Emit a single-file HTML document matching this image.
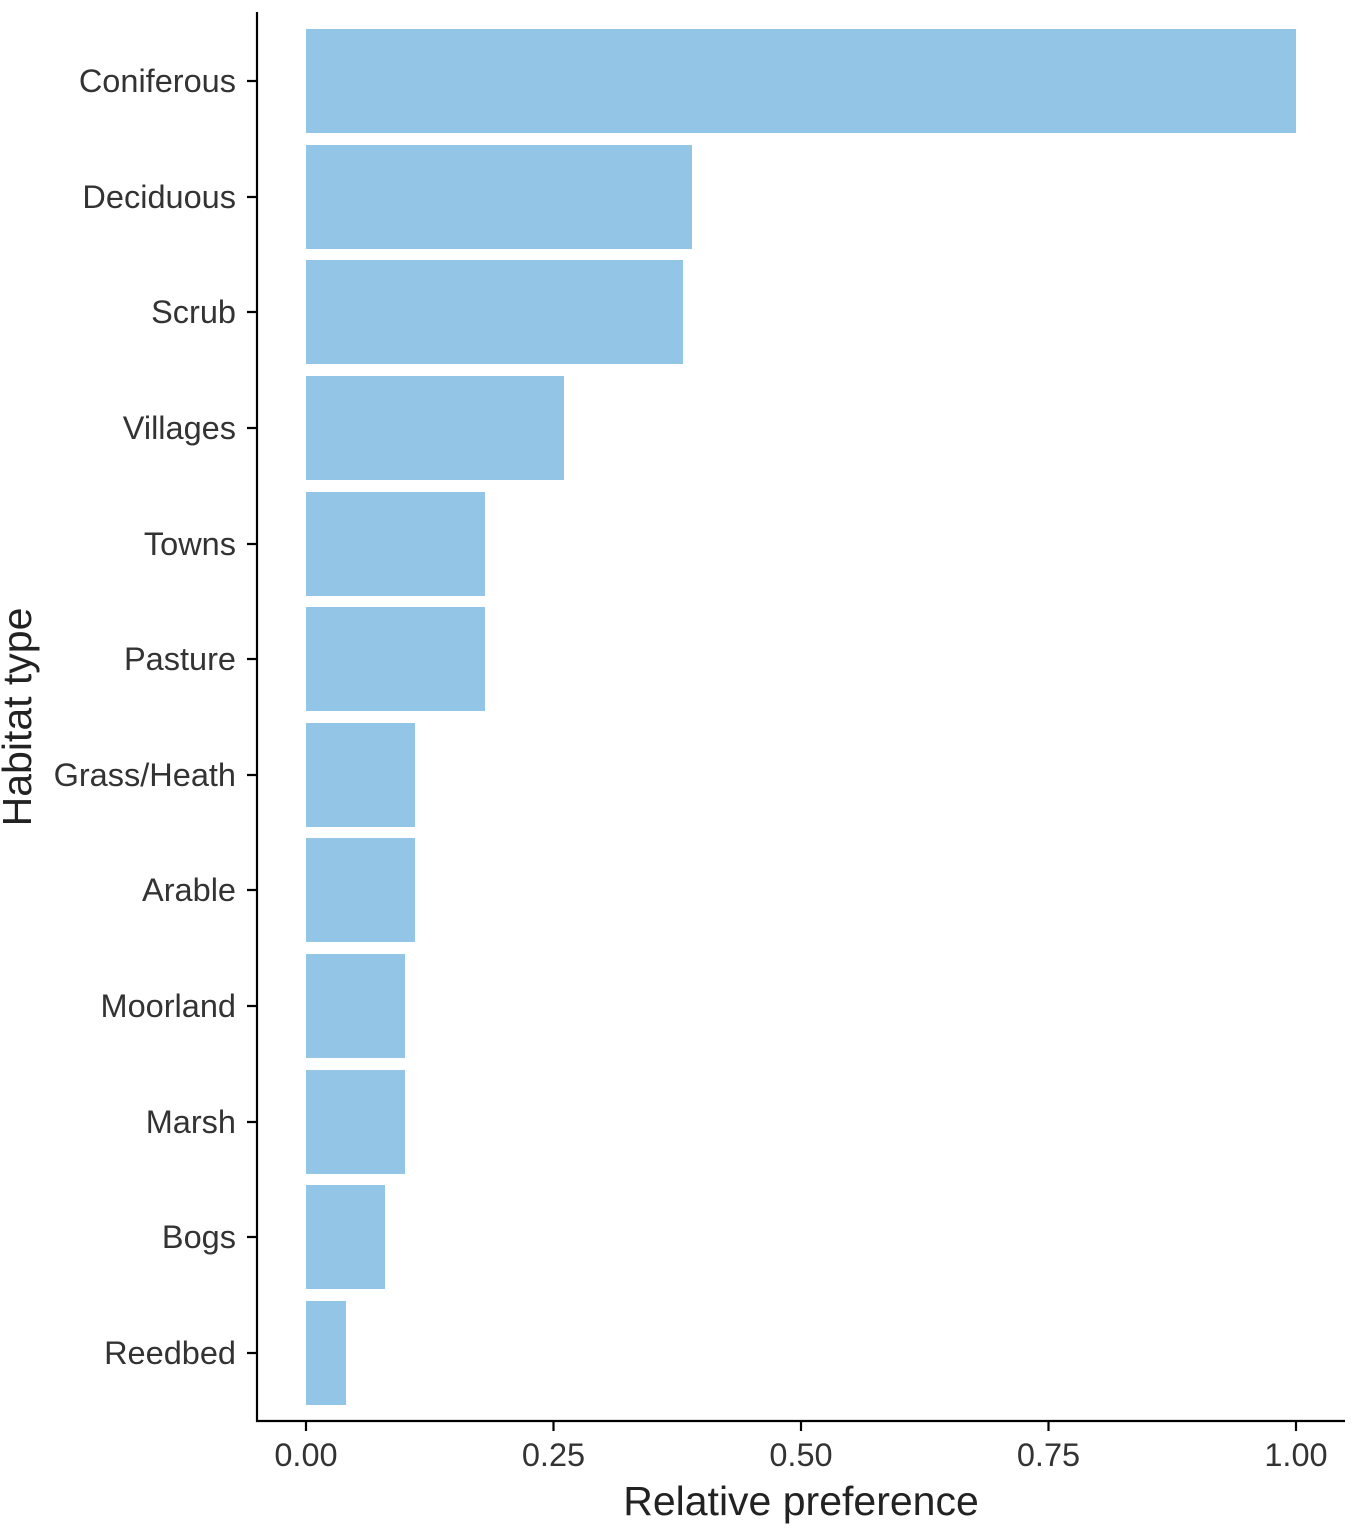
<!DOCTYPE html>
<html><head><meta charset="utf-8"><style>body{margin:0;background:#fff}</style></head><body>
<svg width="1358" height="1535" xmlns="http://www.w3.org/2000/svg" font-family="Liberation Sans, Arial, sans-serif">
<rect width="1358" height="1535" fill="#fff"/>
<g fill="#93C6E6">
<rect x="306" y="29" width="990" height="104"/>
<rect x="306" y="145" width="386" height="104"/>
<rect x="306" y="260" width="377" height="104"/>
<rect x="306" y="376" width="258" height="104"/>
<rect x="306" y="492" width="179" height="104"/>
<rect x="306" y="607" width="179" height="104"/>
<rect x="306" y="723" width="109" height="104"/>
<rect x="306" y="838" width="109" height="104"/>
<rect x="306" y="954" width="99" height="104"/>
<rect x="306" y="1070" width="99" height="104"/>
<rect x="306" y="1185" width="79" height="104"/>
<rect x="306" y="1301" width="40" height="104"/>
</g>
<g stroke="#000" stroke-width="2.2" fill="none">
<path d="M257 12V1421H1345"/>
<path d="M247 81H257M247 197H257M247 312H257M247 428H257M247 544H257M247 659H257M247 775H257M247 890H257M247 1006H257M247 1122H257M247 1237H257M247 1353H257"/>
<path d="M306 1421V1431M553.5 1421V1431M801 1421V1431M1048.5 1421V1431M1296 1421V1431"/>
</g>
<g font-size="32.5" fill="#333" text-anchor="end">
<text x="236" y="92">Coniferous</text>
<text x="236" y="208">Deciduous</text>
<text x="236" y="323">Scrub</text>
<text x="236" y="439">Villages</text>
<text x="236" y="555">Towns</text>
<text x="236" y="670">Pasture</text>
<text x="236" y="786">Grass/Heath</text>
<text x="236" y="901">Arable</text>
<text x="236" y="1017">Moorland</text>
<text x="236" y="1133">Marsh</text>
<text x="236" y="1248">Bogs</text>
<text x="236" y="1364">Reedbed</text>
</g>
<g font-size="32.5" fill="#333" text-anchor="middle">
<text x="306" y="1466">0.00</text>
<text x="553.5" y="1466">0.25</text>
<text x="801" y="1466">0.50</text>
<text x="1048.5" y="1466">0.75</text>
<text x="1296" y="1466">1.00</text>
</g>
<text x="801" y="1515" font-size="41" text-anchor="middle" fill="#222">Relative preference</text>
<text transform="translate(31,717) rotate(-90)" font-size="41" text-anchor="middle" fill="#222">Habitat type</text>
</svg>
</body></html>
